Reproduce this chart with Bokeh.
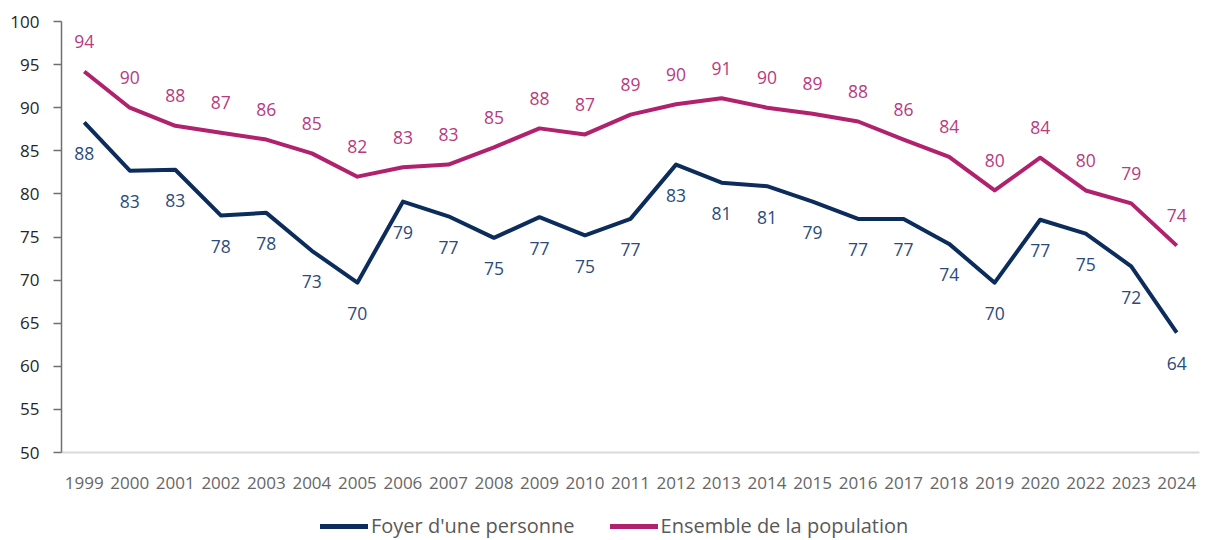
from bokeh.plotting import figure
from bokeh.layouts import column
from bokeh.models import ColumnDataSource, LabelSet, Legend, LegendItem, FactorRange, FixedTicker
from bokeh.core.properties import value
from bokeh.embed import file_html
from bokeh.resources import INLINE

years = ["1999", "2000", "2001", "2002", "2003", "2004", "2005", "2006", "2007", "2008",
         "2009", "2010", "2011", "2012", "2013", "2014", "2015", "2016", "2017", "2018",
         "2019", "2020", "2022", "2023", "2024"]
foyer = [88.3, 82.7, 82.8, 77.5, 77.8, 73.4, 69.7, 79.1, 77.4, 74.9,
         77.3, 75.2, 77.1, 83.4, 81.3, 80.9, 79.1, 77.1, 77.1, 74.2,
         69.7, 77.0, 75.4, 71.6, 63.9]
ensemble = [94.2, 90.0, 87.9, 87.1, 86.3, 84.7, 82.0, 83.1, 83.4, 85.4,
            87.6, 86.9, 89.2, 90.4, 91.1, 90.0, 89.3, 88.4, 86.3, 84.3,
            80.4, 84.2, 80.4, 78.9, 74.0]
y_ticks = [50, 55, 60, 65, 70, 75, 80, 85, 90, 95, 100]
series_names = ["Foyer d'une personne", "Ensemble de la population"]

FONT = "Open Sans"
NAVY = "#0c2d5c"
NAVY_TXT = "#2a4c7d"
PINK = "#b0216e"
PINK_TXT = "#b83a80"

src = ColumnDataSource(dict(
    x=years, f=foyer, e=ensemble,
    fl=[str(int(round(v))) for v in foyer],
    el=[str(int(round(v))) for v in ensemble],
))

p = figure(width=1202, height=511, x_range=FactorRange(*years), y_range=(50, 100),
           output_backend="svg", toolbar_location=None,
           min_border_left=61, min_border_right=3, min_border_top=21, min_border_bottom=59)
p.outline_line_color = None
p.grid.grid_line_color = None

p.line("x", "f", source=src, line_color=NAVY, line_width=4, line_join="round")
p.line("x", "e", source=src, line_color=PINK, line_width=4, line_join="round")

p.add_layout(LabelSet(x="x", y="f", text="fl", source=src, y_offset=-31,
                      text_align="center", text_baseline="middle",
                      text_font=value(FONT), text_font_size="17.5px", text_color=NAVY_TXT))
p.add_layout(LabelSet(x="x", y="e", text="el", source=src, y_offset=30,
                      text_align="center", text_baseline="middle",
                      text_font=value(FONT), text_font_size="17.5px", text_color=PINK_TXT))

p.yaxis.ticker = FixedTicker(ticks=y_ticks)
p.yaxis.axis_line_color = "#6f6f6f"
p.yaxis.axis_line_width = 1.5
p.yaxis.major_tick_line_color = "#6f6f6f"
p.yaxis.major_tick_line_width = 1.5
p.yaxis.major_tick_in = 0
p.yaxis.major_tick_out = 8
p.yaxis.minor_tick_line_color = None
p.yaxis.major_label_text_font = FONT
p.yaxis.major_label_text_font_size = "17px"
p.yaxis.major_label_text_color = "#262626"
p.yaxis.major_label_standoff = 14

p.xaxis.axis_line_color = "#d9d9d9"
p.xaxis.axis_line_width = 2
p.xaxis.major_tick_line_color = None
p.xaxis.minor_tick_line_color = None
p.xaxis.major_label_text_font = FONT
p.xaxis.major_label_text_font_size = "17px"
p.xaxis.major_label_text_color = "#666666"
p.xaxis.major_label_standoff = 18

# legend figure (frames are aligned with the chart above)
lf = figure(width=1202, height=28, output_backend="svg", toolbar_location=None,
            min_border=0, x_range=(0, 1), y_range=(0, 1))
lf.axis.visible = False
lf.grid.grid_line_color = None
lf.outline_line_color = None
l1 = lf.line([5, 6], [5, 6], line_color=NAVY, line_width=5, line_cap="round")
l2 = lf.line([5, 6], [5, 6], line_color=PINK, line_width=5, line_cap="round")
legend = Legend(items=[LegendItem(label=series_names[0], renderers=[l1]),
                       LegendItem(label=series_names[1], renderers=[l2])],
                orientation="horizontal", location=(259, 0),
                label_text_font=FONT, label_text_font_size="20px", label_text_color="#595959",
                glyph_width=48, label_standoff=3, spacing=35,
                border_line_color=None, background_fill_alpha=0,
                margin=0, padding=0)
lf.add_layout(legend)

open("out.html", "w").write(file_html(column(p, lf, spacing=0), INLINE))
